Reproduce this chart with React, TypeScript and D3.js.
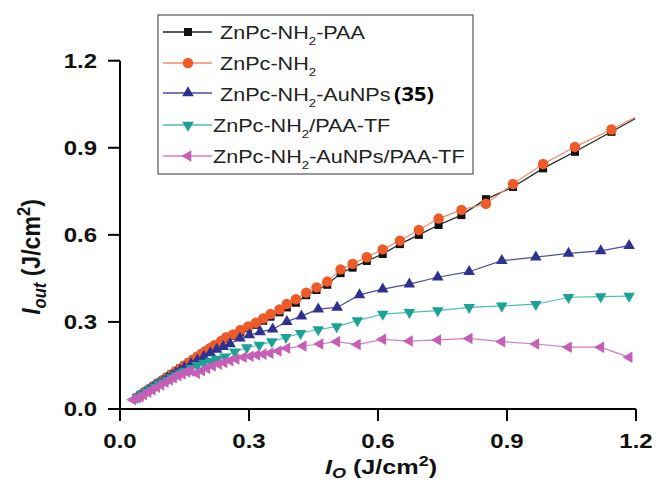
import React from "react";
import * as d3 from "d3";

// ---------- data ----------
const X_TICKS = [0, 0.3, 0.6, 0.9, 1.2];
const Y_TICKS = [0, 0.3, 0.6, 0.9, 1.2];
const TICK_LABELS = ["0.0", "0.3", "0.6", "0.9", "1.2"];

const SERIES_NAMES = [
  "ZnPc-NH2-PAA",
  "ZnPc-NH2",
  "ZnPc-NH2-AuNPs",
  "ZnPc-NH2/PAA-TF",
  "ZnPc-NH2-AuNPs/PAA-TF",
];

// ZnPc-NH2-PAA (black squares)
const PAA_X = [0.04, 0.05, 0.06, 0.07, 0.08, 0.09, 0.1, 0.11, 0.12, 0.13, 0.14, 0.15, 0.16, 0.17, 0.18, 0.19, 0.2, 0.21, 0.22, 0.235, 0.247, 0.263, 0.28, 0.298, 0.316, 0.333, 0.35, 0.371, 0.388, 0.409, 0.433, 0.457, 0.482, 0.513, 0.541, 0.574, 0.611, 0.651, 0.695, 0.741, 0.794, 0.851, 0.914, 0.984, 1.058, 1.143, 1.198];
const PAA_Y = [0.04, 0.05, 0.06, 0.07, 0.08, 0.09, 0.1, 0.11, 0.12, 0.13, 0.14, 0.15, 0.16, 0.17, 0.18, 0.19, 0.2, 0.208, 0.217, 0.23, 0.242, 0.252, 0.266, 0.278, 0.29, 0.304, 0.318, 0.333, 0.35, 0.366, 0.392, 0.41, 0.428, 0.468, 0.487, 0.51, 0.534, 0.568, 0.6, 0.634, 0.668, 0.723, 0.765, 0.829, 0.886, 0.955, 1.0];

// ZnPc-NH2 (orange circles)
const NH2_X = [0.04, 0.05, 0.06, 0.07, 0.08, 0.09, 0.1, 0.11, 0.12, 0.13, 0.14, 0.15, 0.16, 0.17, 0.18, 0.19, 0.2, 0.21, 0.22, 0.235, 0.247, 0.263, 0.28, 0.298, 0.316, 0.333, 0.35, 0.371, 0.388, 0.409, 0.433, 0.457, 0.482, 0.513, 0.541, 0.574, 0.611, 0.651, 0.695, 0.741, 0.794, 0.851, 0.914, 0.984, 1.058, 1.143, 1.198];
const NH2_Y = [0.04, 0.05, 0.06, 0.07, 0.08, 0.09, 0.1, 0.11, 0.12, 0.13, 0.14, 0.15, 0.16, 0.17, 0.18, 0.19, 0.2, 0.21, 0.22, 0.234, 0.247, 0.257, 0.272, 0.284, 0.297, 0.312, 0.327, 0.343, 0.362, 0.378, 0.401, 0.419, 0.439, 0.481, 0.5, 0.523, 0.55, 0.58, 0.617, 0.656, 0.686, 0.707, 0.775, 0.844, 0.903, 0.963, 1.005];

// ZnPc-NH2-AuNPs (blue up-triangles)
const AU_X = [0.04, 0.05, 0.06, 0.07, 0.08, 0.09, 0.1, 0.11, 0.12, 0.13, 0.14, 0.15, 0.165, 0.18, 0.195, 0.21, 0.225, 0.24, 0.256, 0.279, 0.301, 0.326, 0.355, 0.388, 0.422, 0.461, 0.505, 0.557, 0.611, 0.673, 0.739, 0.812, 0.888, 0.967, 1.043, 1.118, 1.184];
const AU_Y = [0.04, 0.05, 0.06, 0.07, 0.08, 0.088, 0.097, 0.106, 0.115, 0.124, 0.133, 0.142, 0.156, 0.168, 0.18, 0.193, 0.205, 0.215, 0.224, 0.244, 0.255, 0.266, 0.275, 0.301, 0.32, 0.344, 0.35, 0.393, 0.413, 0.43, 0.454, 0.473, 0.511, 0.523, 0.536, 0.545, 0.563];

// ZnPc-NH2/PAA-TF (teal down-triangles)
const TF_X = [0.04, 0.05, 0.06, 0.07, 0.08, 0.09, 0.1, 0.11, 0.12, 0.13, 0.14, 0.15, 0.165, 0.18, 0.195, 0.21, 0.225, 0.244, 0.267, 0.295, 0.324, 0.353, 0.386, 0.42, 0.461, 0.504, 0.552, 0.611, 0.673, 0.739, 0.812, 0.888, 0.967, 1.043, 1.118, 1.184];
const TF_Y = [0.04, 0.05, 0.058, 0.067, 0.076, 0.085, 0.093, 0.1, 0.108, 0.116, 0.124, 0.131, 0.14, 0.15, 0.158, 0.165, 0.172, 0.18, 0.197, 0.212, 0.22, 0.232, 0.247, 0.261, 0.274, 0.284, 0.305, 0.327, 0.333, 0.339, 0.35, 0.355, 0.361, 0.385, 0.387, 0.389];

// ZnPc-NH2-AuNPs/PAA-TF (magenta left-triangles)
const AUTF_X = [0.03, 0.04, 0.047, 0.055, 0.065, 0.075, 0.085, 0.095, 0.105, 0.115, 0.124, 0.135, 0.145, 0.155, 0.165, 0.178, 0.19, 0.202, 0.215, 0.229, 0.242, 0.256, 0.27, 0.287, 0.303, 0.318, 0.333, 0.349, 0.368, 0.388, 0.426, 0.465, 0.504, 0.552, 0.611, 0.673, 0.739, 0.812, 0.888, 0.967, 1.043, 1.118, 1.184];
const AUTF_Y = [0.032, 0.038, 0.042, 0.05, 0.058, 0.066, 0.075, 0.083, 0.092, 0.1, 0.108, 0.115, 0.121, 0.128, 0.13, 0.123, 0.132, 0.14, 0.148, 0.155, 0.16, 0.166, 0.172, 0.178, 0.182, 0.186, 0.189, 0.192, 0.2, 0.209, 0.217, 0.224, 0.232, 0.222, 0.24, 0.234, 0.238, 0.243, 0.232, 0.224, 0.213, 0.213, 0.178];

// ---------- styling ----------
const W = 656;
const H = 482;
const STRETCH = 1.2;
const FONT = "'Liberation Sans', Arial, Helvetica, sans-serif";

type Kind = "square" | "circle" | "up" | "down" | "left";
const STYLES: { color: string; line: string; kind: Kind }[] = [
  { color: "#111111", line: "#222222", kind: "square" },
  { color: "#EE5A28", line: "#F08A66", kind: "circle" },
  { color: "#2E3192", line: "#4A4D9E", kind: "up" },
  { color: "#1BA396", line: "#4DBFB3", kind: "down" },
  { color: "#C65DB6", line: "#D07FC3", kind: "left" },
];

const XS = [PAA_X, NH2_X, AU_X, TF_X, AUTF_X];
const YS = [PAA_Y, NH2_Y, AU_Y, TF_Y, AUTF_Y];

const x = d3.scaleLinear().domain([0, 1.2]).range([120, 636]);
const y = d3.scaleLinear().domain([0, 1.2]).range([409, 60.7]);

function markerPath(kind: Kind): { d: string; rot: number } {
  if (kind === "square") return { d: d3.symbol(d3.symbolSquare, 64)() || "", rot: 0 };
  if (kind === "circle") return { d: d3.symbol(d3.symbolCircle, 86)() || "", rot: 0 };
  const tri = d3.symbol(d3.symbolTriangle, 58)() || "";
  if (kind === "up") return { d: tri, rot: 0 };
  if (kind === "down") return { d: tri, rot: 180 };
  return { d: tri, rot: -90 };
}

function Marker({ kind, cx, cy, color }: { kind: Kind; cx: number; cy: number; color: string }) {
  const m = markerPath(kind);
  return <path d={m.d} transform={`translate(${cx},${cy}) rotate(${m.rot})`} fill={color} />;
}

function Sub({ children }: { children: React.ReactNode }) {
  return (
    <tspan fontSize={11} dy={6}>
      {children}
    </tspan>
  );
}

function LegendLabel({ i }: { i: number }) {
  const name = SERIES_NAMES[i];
  const [head, tail] = name.split("NH2");
  return (
    <>
      <tspan>{head}NH</tspan>
      <Sub>2</Sub>
      <tspan dy={-6}>{tail}</tspan>
    </>
  );
}

export default function App() {
  const line = d3
    .line<[number, number]>()
    .x((d) => x(d[0]))
    .y((d) => y(d[1]));

  const legendMarkY = [32, 63, 93, 125, 156];
  const legendTextY = [39, 70, 101, 132, 163];
  const legendTextX = [220, 220, 220, 213, 213];
  const drawOrder = [0, 1, 2, 3, 4];

  return (
    <svg
      width={W}
      height={H}
      style={{ position: "absolute", left: 0, top: 0, background: "#fff" }}
      fontFamily={FONT}
    >
      <rect width={W} height={H} fill="#fff" />

      {/* series */}
      {drawOrder.map((i) => {
        const n = Math.min(XS[i].length, YS[i].length);
        const pts: [number, number][] = XS[i].slice(0, n).map((v, k) => [v, YS[i][k]]);
        const st = STYLES[i];
        return (
          <g key={i}>
            <path d={line(pts) || ""} fill="none" stroke={st.line} strokeWidth={1.2} />
            {pts
              .filter((p) => p[0] < 1.19)
              .map((p, k) => (
                <Marker key={k} kind={st.kind} cx={x(p[0])} cy={y(p[1])} color={st.color} />
              ))}
          </g>
        );
      })}

      {/* axes */}
      <g stroke="#000" strokeWidth={2} fill="none">
        <line x1={x(0)} x2={x(1.2)} y1={y(0)} y2={y(0)} />
        <line x1={x(0)} x2={x(0)} y1={y(0)} y2={y(1.2)} />
        {X_TICKS.map((t) => (
          <line key={"xt" + t} x1={x(t)} x2={x(t)} y1={y(0)} y2={y(0) + 12} />
        ))}
        {Y_TICKS.map((t) => (
          <line key={"yt" + t} x1={x(0) - 12} x2={x(0)} y1={y(t)} y2={y(t)} />
        ))}
      </g>

      {/* tick labels */}
      {X_TICKS.map((t, k) => (
        <g key={"xl" + t} transform={`translate(${x(t)},${448}) scale(${STRETCH},1)`}>
          <text textAnchor="middle" fontSize={20} fontWeight="bold" fill="#111">
            {TICK_LABELS[k]}
          </text>
        </g>
      ))}
      {Y_TICKS.map((t, k) => (
        <g key={"yl" + t} transform={`translate(${97},${y(t) + 7}) scale(${STRETCH},1)`}>
          <text textAnchor="end" fontSize={20} fontWeight="bold" fill="#111">
            {TICK_LABELS[k]}
          </text>
        </g>
      ))}

      {/* axis titles */}
      <g transform={`translate(${381},${474}) scale(${STRETCH},1)`}>
        <text textAnchor="middle" fontSize={21} fontWeight="bold" fill="#111">
          <tspan fontStyle="italic">I</tspan>
          <tspan fontStyle="italic" fontSize={15} dy={4}>O</tspan>
          <tspan dy={-4}> (J/cm</tspan>
          <tspan fontSize={15} dy={-8}>2</tspan>
          <tspan dy={8}>)</tspan>
        </text>
      </g>
      <g transform={`translate(${40},${257}) rotate(-90) scale(1.1,${STRETCH})`}>
        <text textAnchor="middle" fontSize={21} fontWeight="bold" fill="#111">
          <tspan fontStyle="italic">I</tspan>
          <tspan fontStyle="italic" fontSize={15} dy={5}>out</tspan>
          <tspan dy={-5}> (J/cm</tspan>
          <tspan fontSize={15} dy={-8}>2</tspan>
          <tspan dy={8}>)</tspan>
        </text>
      </g>

      {/* legend */}
      <rect x={158} y={15} width={315} height={159} fill="#fff" stroke="#555" strokeWidth={1.2} />
      {SERIES_NAMES.map((_, i) => {
        const st = STYLES[i];
        return (
          <g key={"lg" + i}>
            <line x1={163} x2={212} y1={legendMarkY[i]} y2={legendMarkY[i]} stroke={st.line} strokeWidth={1.3} />
            <Marker kind={st.kind} cx={188} cy={legendMarkY[i]} color={st.color} />
            <g transform={`translate(${legendTextX[i]},${legendTextY[i]}) scale(${STRETCH},1)`}>
              <text fontSize={18} fill="#222">
                <LegendLabel i={i} />
              </text>
            </g>
          </g>
        );
      })}
      <g transform={`translate(${394},${101}) scale(1.15,1)`}>
        <text fontSize={19} fontWeight="bold" fill="#000" fontFamily="'Open Sans', 'Noto Sans', sans-serif">
          (35)
        </text>
      </g>
    </svg>
  );
}
